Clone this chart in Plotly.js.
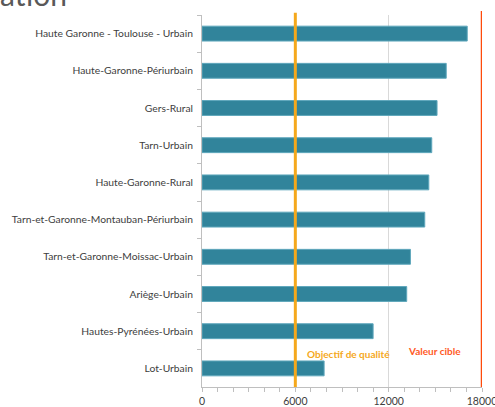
<!DOCTYPE html>
<html>
<head>
<meta charset="utf-8">
<script src="https://cdn.plot.ly/plotly-3.0.1.min.js"></script>
<style>
html,body{margin:0;padding:0;background:#fff;}
#chart{width:495px;height:407px;}
</style>
</head>
<body>
<div id="chart"></div>
<script>
const categories = [
  "Haute Garonne - Toulouse - Urbain",
  "Haute-Garonne-Périurbain",
  "Gers-Rural",
  "Tarn-Urbain",
  "Haute-Garonne-Rural",
  "Tarn-et-Garonne-Montauban-Périurbain",
  "Tarn-et-Garonne-Moissac-Urbain",
  "Ariège-Urbain",
  "Hautes-Pyrénées-Urbain",
  "Lot-Urbain"
];
const values = [17050, 15700, 15110, 14770, 14580, 14320, 13400, 13160, 11000, 7850];
const xTicks = [0, 6000, 12000, 18000];
const qualityObjective = 6000;
const targetValue = 18000;
const qualityLabel = "Objectif de qualité";
const targetLabel = "Valeur cible";
const titleFragment = "ation";

const trace = {
  type: "bar",
  orientation: "h",
  x: values,
  y: categories,
  marker: {color: "#31849B", line: {color: "#5FA7BC", width: 1}},
  hoverinfo: "x+y"
};

const layout = {
  width: 495,
  height: 407,
  margin: {l: 202, r: 13, t: 15, b: 20, pad: 0},
  paper_bgcolor: "#ffffff",
  plot_bgcolor: "#ffffff",
  showlegend: false,
  bargap: 0.6,
  font: {family: "Lato, 'Open Sans', sans-serif", size: 11, color: "#404040"},
  xaxis: {
    range: [0, 18000],
    tickvals: xTicks,
    ticktext: xTicks.map(String),
    ticklabeloverflow: "allow",
    showgrid: true,
    gridcolor: "#D9D9D9",
    gridwidth: 1,
    zeroline: false,
    showline: true,
    linecolor: "#BFBFBF",
    linewidth: 1,
    ticks: "outside",
    ticklen: 4,
    tickcolor: "#BFBFBF",
    minor: {dtick: 1000, ticks: "outside", ticklen: 4, tickcolor: "#BFBFBF", showgrid: false},
    tickfont: {family: "Lato, sans-serif", size: 10.5, color: "#404040"},
    fixedrange: true
  },
  yaxis: {
    type: "category",
    autorange: "reversed",
    showgrid: false,
    zeroline: false,
    showline: true,
    linecolor: "#BFBFBF",
    linewidth: 1,
    ticks: "outside",
    tickson: "boundaries",
    ticklen: 4,
    tickcolor: "#BFBFBF",
    ticklabelstandoff: 6,
    tickfont: {family: "Lato, sans-serif", size: 10.3, color: "#404040"},
    fixedrange: true
  },
  shapes: [
    {type: "line", xref: "x", yref: "paper", x0: qualityObjective, x1: qualityObjective, y0: 0, y1: 1.006,
     line: {color: "#F5A81C", width: 3}},
    {type: "line", xref: "x", yref: "paper", x0: targetValue, x1: targetValue, y0: 0, y1: 1.011,
     line: {color: "#FF4A0A", width: 2.5}}
  ],
  annotations: [
    {text: "<b>" + qualityLabel + "</b>", xref: "x", yref: "paper", x: qualityObjective + 600, y: 0.09,
     xanchor: "left", yanchor: "middle", showarrow: false,
     font: {family: "Lato, sans-serif", size: 10, color: "#F5A81C"}},
    {text: "<b>" + targetLabel + "</b>", xref: "x", yref: "paper", x: 14950, y: 0.097,
     xanchor: "center", yanchor: "middle", showarrow: false,
     font: {family: "Lato, sans-serif", size: 10, color: "#FF5A1F"}},
    {text: titleFragment, xref: "paper", yref: "paper", x: -0.73, y: 1.004,
     xanchor: "left", yanchor: "bottom", showarrow: false,
     font: {family: "Lato, sans-serif", size: 30, color: "#595959"}}
  ]
};

Plotly.newPlot("chart", [trace], layout, {displayModeBar: false, staticPlot: true});
</script>
</body>
</html>
